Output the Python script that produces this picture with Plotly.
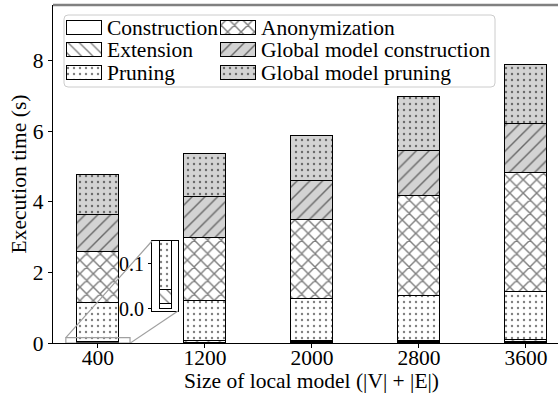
import plotly.graph_objects as go

# ---- data -------------------------------------------------------------
sizes = [400, 1200, 2000, 2800, 3600]
construction = [0.011, 0.014, 0.018, 0.021, 0.025]
extension = [0.031, 0.036, 0.042, 0.047, 0.052]
pruning = [1.088, 1.14, 1.18, 1.272, 1.373]
anonymization = [1.46, 1.80, 2.26, 2.82, 3.37]
global_construction = [1.04, 1.15, 1.10, 1.28, 1.38]
global_pruning = [1.13, 1.22, 1.26, 1.52, 1.69]

series_names = ["Construction", "Extension", "Pruning", "Anonymization",
                "Global model construction", "Global model pruning"]
series_values = [construction, extension, pruning, anonymization,
                 global_construction, global_pruning]

# ---- styling ----------------------------------------------------------
FONT = "Liberation Serif"
GRAY_FILL = "#d3d3d3"
# (fill, pattern shape, pattern size, solidity)
styles = [
    ("white", "", 8, 0.2),
    ("white", "\\", 8, 0.17),
    ("white", ".", 6, 0.12),
    ("white", "x", 9.5, 0.28),
    (GRAY_FILL, "/", 9, 0.16),
    (GRAY_FILL, ".", 6, 0.12),
]

W, H = 558, 395
L, R, T, B = 53, 0, 5, 52
PW, PH = W - L - R, H - T - B

XR = [-0.42, 4.30]
YR = [0, 9.58]
BAR_W = 0.4
positions = list(range(len(sizes)))

# inset (zoom on the bottom of the first bar), pixel box and ranges
INSET_BOX = (152, 241, 178, 311)  # left, top, right, bottom
INSET_XR = [-0.47, 0.41]
INSET_YR = [-0.005, 0.151]
ZOOM_XR = [-0.30, 0.30]

# legend layout in pixels
LEG_BOX = (64, 15, 495, 87)
LEG_COL_X = [67, 221]
LEG_ROW_Y = [28, 50.3, 72.7]
HANDLE_W, HANDLE_H = 35, 14

# x-axis title position in pixels (centre)
XTITLE_PX = (311.5, 381)


def main_to_px(x, y):
    px = L + (x - XR[0]) / (XR[1] - XR[0]) * PW
    py = T + PH - (y - YR[0]) / (YR[1] - YR[0]) * PH
    return px, py


fig = go.Figure()

for i, (name, vals) in enumerate(zip(series_names, series_values)):
    fill, shape, psize, sol = styles[i]
    marker = dict(color=fill, line=dict(color="black", width=1),
                  pattern=dict(shape=shape, size=psize, solidity=sol,
                               fgcolor="black", fillmode="overlay"))
    # main stacked bars
    fig.add_trace(go.Bar(x=positions, y=vals, width=BAR_W, marker=marker,
                         name=name, showlegend=False, xaxis="x", yaxis="y"))
    # inset stacked bars
    fig.add_trace(go.Bar(x=positions, y=vals, width=BAR_W, marker=marker,
                         name=name, showlegend=False, xaxis="x2", yaxis="y2",
                         hoverinfo="skip"))
    # legend handle + label
    col, row = divmod(i, 3)
    fig.add_trace(go.Bar(x=[LEG_COL_X[col] + HANDLE_W / 2], y=[HANDLE_H],
                         base=[LEG_ROW_Y[row] - HANDLE_H / 2], width=HANDLE_W,
                         marker=marker, showlegend=False, xaxis="x3", yaxis="y3",
                         hoverinfo="skip"))
    fig.add_annotation(x=LEG_COL_X[col] + HANDLE_W + 3, y=LEG_ROW_Y[row],
                       xref="x3", yref="y3", text=name, showarrow=False,
                       xanchor="left", yanchor="middle",
                       font=dict(family=FONT, size=21.5, color="black"))

# legend frame with rounded corners
x0, y0, x1, y1 = LEG_BOX
r = 4
path = (f"M{x0+r},{y0} L{x1-r},{y0} Q{x1},{y0} {x1},{y0+r} L{x1},{y1-r} "
        f"Q{x1},{y1} {x1-r},{y1} L{x0+r},{y1} Q{x0},{y1} {x0},{y1-r} "
        f"L{x0},{y0+r} Q{x0},{y0} {x0+r},{y0} Z")
fig.add_shape(type="path", path=path, xref="x3", yref="y3",
              fillcolor="white", line=dict(color="#cccccc", width=1), layer="below")

# zoom rectangle and connectors to the inset
fig.add_shape(type="rect", xref="x", yref="y", x0=ZOOM_XR[0], x1=ZOOM_XR[1],
              y0=INSET_YR[0], y1=INSET_YR[1], line=dict(color="#a0a0a0", width=1.2),
              layer="above")
ax, ay = main_to_px(ZOOM_XR[0], INSET_YR[1])
bx, by = main_to_px(ZOOM_XR[1], INSET_YR[0])
fig.add_shape(type="line", xref="x3", yref="y3", x0=ax, y0=ay,
              x1=INSET_BOX[0], y1=INSET_BOX[1], line=dict(color="#a0a0a0", width=1.2),
              layer="above")
fig.add_shape(type="line", xref="x3", yref="y3", x0=bx, y0=by,
              x1=INSET_BOX[2], y1=INSET_BOX[3], line=dict(color="#a0a0a0", width=1.2),
              layer="above")

# top frame line
fig.add_shape(type="line", xref="paper", yref="paper", x0=0, x1=1, y0=1, y1=1,
              line=dict(color="#808080", width=2.5), layer="above")

# x-axis title
fig.add_annotation(x=(XTITLE_PX[0] - L) / PW, y=(T + PH - XTITLE_PX[1]) / PH,
                   xref="paper", yref="paper", text="Size of local model (|V| + |E|)",
                   showarrow=False, xanchor="center", yanchor="middle",
                   font=dict(family=FONT, size=21.5, color="black"))

inset_xdom = [(INSET_BOX[0] - L) / PW, (INSET_BOX[2] - L) / PW]
inset_ydom = [(T + PH - INSET_BOX[3]) / PH, (T + PH - INSET_BOX[1]) / PH]

tick_font = dict(family=FONT, size=21.5, color="black")
fig.update_layout(
    width=W, height=H,
    margin=dict(l=L, r=R, t=T, b=B, pad=0),
    paper_bgcolor="white", plot_bgcolor="rgba(0,0,0,0)",
    barmode="stack", bargap=0,
    showlegend=False,
    font=dict(family=FONT, color="black"),
    xaxis=dict(domain=[0, 1], range=XR, tickvals=positions,
               ticktext=[str(s) for s in sizes], tickfont=tick_font,
               showline=True, linecolor="black", linewidth=1.2,
               ticks="outside", ticklen=4, tickwidth=1, tickcolor="black",
               ticklabelstandoff=-9,
               showgrid=False, zeroline=False),
    yaxis=dict(domain=[0, 1], range=YR, tickvals=[0, 2, 4, 6, 8],
               tickfont=tick_font,
               showline=True, linecolor="black", linewidth=1.2,
               ticks="outside", ticklen=4, tickwidth=1, tickcolor="black",
               showgrid=False, zeroline=False,
               title=dict(text="Execution time (s)",
                          font=dict(family=FONT, size=21.5), standoff=0)),
    xaxis2=dict(domain=inset_xdom, range=INSET_XR, anchor="y2",
                showticklabels=False, ticks="", showgrid=False, zeroline=False,
                showline=True, mirror=True, linecolor="black", linewidth=1),
    yaxis2=dict(domain=inset_ydom, range=INSET_YR, anchor="x2",
                tickvals=[0, 0.1], tickformat=".1f",
                tickfont=dict(family=FONT, size=20, color="black"),
                ticks="outside", ticklen=3, tickwidth=1, tickcolor="black",
                showgrid=False, zeroline=False,
                showline=True, mirror=True, linecolor="black", linewidth=1),
    xaxis3=dict(domain=[0, 1], range=[L, W - R], anchor="y3", visible=False,
                fixedrange=True),
    yaxis3=dict(domain=[0, 1], range=[T + PH, T], anchor="x3", visible=False,
                fixedrange=True),
)

fig.write_html("out.html")
